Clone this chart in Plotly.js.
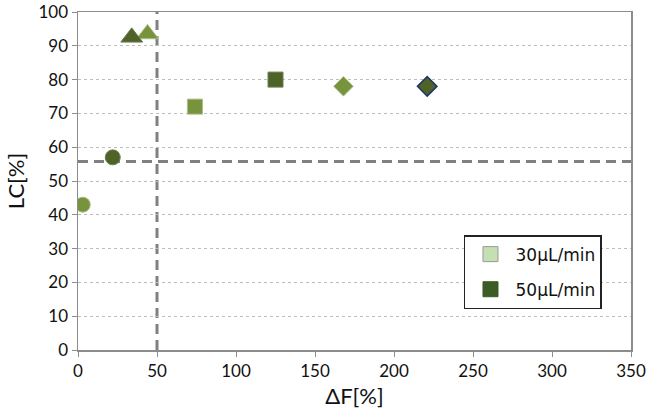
<!DOCTYPE html>
<html>
<head>
<meta charset="utf-8">
<script src="https://cdn.plot.ly/plotly-3.0.1.min.js"></script>
<style>html,body{margin:0;padding:0;background:#fff;}#chart{width:646px;height:417px;}</style>
</head>
<body>
<div id="chart"></div>
<script>
// Flow-rate series: ΔF [%] vs LC [%] for each marker shape
const symbols = ['circle', 'triangle-up', 'square', 'diamond'];
const flow30_dF = [3, 44, 74, 168];
const flow30_LC = [43, 93.5, 72, 78];
const flow50_dF = [22, 34, 125, 221];
const flow50_LC = [57, 92.5, 80, 78];

// Threshold guides
const thresholdDF = 50;
const thresholdLC = 55.8;

const legendNames = ['30μL/min', '50μL/min'];
const xTicks = [0, 50, 100, 150, 200, 250, 300, 350];
const yTicks = [0, 10, 20, 30, 40, 50, 60, 70, 80, 90, 100];

const light = '#77933C';
const dark = '#4F6228';

const sizeFor = s => (s === 'triangle-up' ? 19 : 15);

const traces = [];
symbols.forEach((s, i) => {
  traces.push({
    x: [flow30_dF[i]], y: [flow30_LC[i]], type: 'scatter', mode: 'markers', showlegend: false,
    marker: {symbol: s, size: sizeFor(s), color: light, line: {color: '#a9bd88', width: 1}}
  });
  traces.push({
    x: [flow50_dF[i]], y: [flow50_LC[i]], type: 'scatter', mode: 'markers', showlegend: false,
    marker: {symbol: s, size: sizeFor(s), color: dark,
             line: {color: s === 'diamond' ? '#1f3864' : '#6f7f55', width: s === 'diamond' ? 1.5 : 1}}
  });
});

// Legend entries
traces.push({x: [null], y: [null], type: 'scatter', mode: 'markers', name: legendNames[0], legendgroup: 'a',
  marker: {symbol: 'square', size: 15, color: '#C4E0B2', line: {color: '#999', width: 1}}});
traces.push({x: [null], y: [null], type: 'scatter', mode: 'markers', name: legendNames[1], legendgroup: 'b',
  marker: {symbol: 'square', size: 15, color: '#3B5B27', line: {color: '#3B5B27', width: 1}}});

const layout = {
  width: 646, height: 417,
  margin: {l: 78, r: 15, t: 12, b: 67},
  paper_bgcolor: '#fff', plot_bgcolor: '#fff',
  font: {family: 'Open Sans, sans-serif', color: '#111'},
  xaxis: {
    range: [0, 350.001], tickvals: xTicks,
    showgrid: false, zeroline: false, showline: true, mirror: true,
    linecolor: '#8c8c8c', linewidth: 1.5,
    ticks: 'outside', ticklen: 5, tickcolor: '#8c8c8c',
    tickfont: {family: 'Lato, sans-serif', size: 17, color: '#111'},
    title: {text: 'ΔF[%]', font: {family: 'Lato, sans-serif', size: 22, color: '#111'}, standoff: 8}
  },
  yaxis: {
    range: [0, 100.001], tickvals: yTicks, ticklabeloverflow: 'allow',
    showgrid: true, gridcolor: '#bdbdbd', gridwidth: 1, griddash: '3px,3px',
    zeroline: false, showline: true, mirror: true,
    linecolor: '#8c8c8c', linewidth: 1.5,
    ticks: 'outside', ticklen: 5, tickcolor: '#8c8c8c',
    tickfont: {family: 'Lato, sans-serif', size: 17, color: '#111'},
    title: {text: 'LC[%]', font: {family: 'Lato, sans-serif', size: 22, color: '#111'}, standoff: 8}
  },
  shapes: [
    {type: 'line', xref: 'x', yref: 'paper', x0: thresholdDF, x1: thresholdDF, y0: 0, y1: 1,
     line: {color: '#808080', width: 3, dash: '10px,6px'}, layer: 'below'},
    {type: 'line', xref: 'paper', yref: 'y', x0: 0, x1: 1, y0: thresholdLC, y1: thresholdLC,
     line: {color: '#808080', width: 3, dash: '10px,6px'}, layer: 'below'}
  ],
  legend: {
    x: 0.698, y: 0.34, xanchor: 'left', yanchor: 'top',
    bgcolor: '#fff', bordercolor: '#222', borderwidth: 1.5,
    font: {family: 'DejaVu Sans, sans-serif', size: 17, color: '#111'},
    itemwidth: 40, tracegroupgap: 10
  }
};

Plotly.newPlot('chart', traces, layout, {displayModeBar: false, staticPlot: true});
</script>
</body>
</html>
